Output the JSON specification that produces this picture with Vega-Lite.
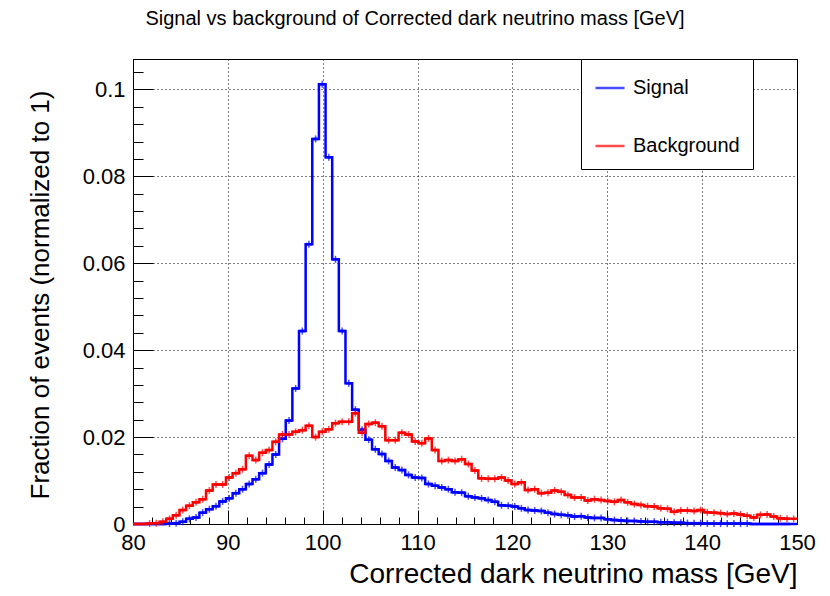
{
  "$schema": "https://vega.github.io/schema/vega-lite/v6.json",
  "width": 664,
  "height": 465,
  "autosize": {"type": "none"},
  "padding": {"left": 133, "top": 59, "right": 33, "bottom": 72},
  "background": "white",
  "title": {
    "text": "Signal vs background of Corrected dark neutrino mass [GeV]",
    "fontSize": 20,
    "fontWeight": "normal",
    "font": "Liberation Sans",
    "color": "black",
    "anchor": "middle",
    "dx": -50,
    "offset": 30
  },
  "config": {
    "view": {"stroke": "black", "strokeWidth": 1},
    "axis": {
      "labelFont": "Liberation Sans",
      "titleFont": "Liberation Sans",
      "labelColor": "black",
      "titleColor": "black",
      "domainColor": "black",
      "tickColor": "black",
      "titleFontWeight": "normal"
    }
  },
  "data": {
    "values": [
      {"lo": 80.0, "hi": 80.7, "Signal": 0, "Background": 0},
      {"lo": 80.7, "hi": 81.4, "Signal": 0, "Background": 0},
      {"lo": 81.4, "hi": 82.1, "Signal": 0, "Background": 0.0001},
      {"lo": 82.1, "hi": 82.8, "Signal": 0, "Background": 0.0002},
      {"lo": 82.8, "hi": 83.5, "Signal": 0, "Background": 0.0005},
      {"lo": 83.5, "hi": 84.2, "Signal": 0.0001, "Background": 0.0012},
      {"lo": 84.2, "hi": 84.9, "Signal": 0.0002, "Background": 0.0020},
      {"lo": 84.9, "hi": 85.6, "Signal": 0.0005, "Background": 0.0032},
      {"lo": 85.6, "hi": 86.3, "Signal": 0.0012, "Background": 0.0042},
      {"lo": 86.3, "hi": 87.0, "Signal": 0.0015, "Background": 0.0050},
      {"lo": 87.0, "hi": 87.7, "Signal": 0.0026, "Background": 0.0057},
      {"lo": 87.7, "hi": 88.4, "Signal": 0.0034, "Background": 0.0077},
      {"lo": 88.4, "hi": 89.1, "Signal": 0.0041, "Background": 0.0091},
      {"lo": 89.1, "hi": 89.8, "Signal": 0.0052, "Background": 0.0091},
      {"lo": 89.8, "hi": 90.5, "Signal": 0.0059, "Background": 0.0107},
      {"lo": 90.5, "hi": 91.2, "Signal": 0.0071, "Background": 0.0117},
      {"lo": 91.2, "hi": 91.9, "Signal": 0.0080, "Background": 0.0126},
      {"lo": 91.9, "hi": 92.6, "Signal": 0.0092, "Background": 0.0157},
      {"lo": 92.6, "hi": 93.3, "Signal": 0.0103, "Background": 0.0147},
      {"lo": 93.3, "hi": 94.0, "Signal": 0.0117, "Background": 0.0164},
      {"lo": 94.0, "hi": 94.7, "Signal": 0.0137, "Background": 0.0170},
      {"lo": 94.7, "hi": 95.4, "Signal": 0.0160, "Background": 0.0189},
      {"lo": 95.4, "hi": 96.1, "Signal": 0.0196, "Background": 0.0206},
      {"lo": 96.1, "hi": 96.8, "Signal": 0.0238, "Background": 0.0206},
      {"lo": 96.8, "hi": 97.5, "Signal": 0.0312, "Background": 0.0212},
      {"lo": 97.5, "hi": 98.2, "Signal": 0.0444, "Background": 0.0216},
      {"lo": 98.2, "hi": 98.9, "Signal": 0.0644, "Background": 0.0226},
      {"lo": 98.9, "hi": 99.6, "Signal": 0.0886, "Background": 0.0200},
      {"lo": 99.6, "hi": 100.3, "Signal": 0.1012, "Background": 0.0212},
      {"lo": 100.3, "hi": 101.0, "Signal": 0.0844, "Background": 0.0218},
      {"lo": 101.0, "hi": 101.7, "Signal": 0.0609, "Background": 0.0232},
      {"lo": 101.7, "hi": 102.4, "Signal": 0.0444, "Background": 0.0235},
      {"lo": 102.4, "hi": 103.1, "Signal": 0.0324, "Background": 0.0235},
      {"lo": 103.1, "hi": 103.8, "Signal": 0.0263, "Background": 0.0255},
      {"lo": 103.8, "hi": 104.5, "Signal": 0.0217, "Background": 0.0210},
      {"lo": 104.5, "hi": 105.2, "Signal": 0.0194, "Background": 0.0230},
      {"lo": 105.2, "hi": 105.9, "Signal": 0.0172, "Background": 0.0233},
      {"lo": 105.9, "hi": 106.6, "Signal": 0.0161, "Background": 0.0225},
      {"lo": 106.6, "hi": 107.3, "Signal": 0.0145, "Background": 0.0193},
      {"lo": 107.3, "hi": 108.0, "Signal": 0.0130, "Background": 0.0193},
      {"lo": 108.0, "hi": 108.7, "Signal": 0.0124, "Background": 0.0210},
      {"lo": 108.7, "hi": 109.4, "Signal": 0.0113, "Background": 0.0206},
      {"lo": 109.4, "hi": 110.1, "Signal": 0.0107, "Background": 0.0190},
      {"lo": 110.1, "hi": 110.8, "Signal": 0.0106, "Background": 0.0186},
      {"lo": 110.8, "hi": 111.5, "Signal": 0.0092, "Background": 0.0197},
      {"lo": 111.5, "hi": 112.2, "Signal": 0.0088, "Background": 0.0170},
      {"lo": 112.2, "hi": 112.9, "Signal": 0.0084, "Background": 0.0145},
      {"lo": 112.9, "hi": 113.6, "Signal": 0.0080, "Background": 0.0147},
      {"lo": 113.6, "hi": 114.3, "Signal": 0.0073, "Background": 0.0145},
      {"lo": 114.3, "hi": 115.0, "Signal": 0.0072, "Background": 0.0149},
      {"lo": 115.0, "hi": 115.7, "Signal": 0.0064, "Background": 0.0138},
      {"lo": 115.7, "hi": 116.4, "Signal": 0.0061, "Background": 0.0123},
      {"lo": 116.4, "hi": 117.1, "Signal": 0.0059, "Background": 0.0105},
      {"lo": 117.1, "hi": 117.8, "Signal": 0.0055, "Background": 0.0104},
      {"lo": 117.8, "hi": 118.5, "Signal": 0.0051, "Background": 0.0104},
      {"lo": 118.5, "hi": 119.2, "Signal": 0.0043, "Background": 0.0107},
      {"lo": 119.2, "hi": 119.9, "Signal": 0.0042, "Background": 0.0100},
      {"lo": 119.9, "hi": 120.6, "Signal": 0.0040, "Background": 0.0092},
      {"lo": 120.6, "hi": 121.3, "Signal": 0.0036, "Background": 0.0096},
      {"lo": 121.3, "hi": 122.0, "Signal": 0.0032, "Background": 0.0078},
      {"lo": 122.0, "hi": 122.7, "Signal": 0.0031, "Background": 0.0080},
      {"lo": 122.7, "hi": 123.4, "Signal": 0.0030, "Background": 0.0071},
      {"lo": 123.4, "hi": 124.1, "Signal": 0.0026, "Background": 0.0072},
      {"lo": 124.1, "hi": 124.8, "Signal": 0.0023, "Background": 0.0077},
      {"lo": 124.8, "hi": 125.5, "Signal": 0.0021, "Background": 0.0074},
      {"lo": 125.5, "hi": 126.2, "Signal": 0.0020, "Background": 0.0067},
      {"lo": 126.2, "hi": 126.9, "Signal": 0.0017, "Background": 0.0061},
      {"lo": 126.9, "hi": 127.6, "Signal": 0.0018, "Background": 0.0061},
      {"lo": 127.6, "hi": 128.3, "Signal": 0.0015, "Background": 0.0054},
      {"lo": 128.3, "hi": 129.0, "Signal": 0.0014, "Background": 0.0057},
      {"lo": 129.0, "hi": 129.7, "Signal": 0.0014, "Background": 0.0055},
      {"lo": 129.7, "hi": 130.4, "Signal": 0.0011, "Background": 0.0053},
      {"lo": 130.4, "hi": 131.1, "Signal": 0.0009, "Background": 0.0051},
      {"lo": 131.1, "hi": 131.8, "Signal": 0.0008, "Background": 0.0055},
      {"lo": 131.8, "hi": 132.5, "Signal": 0.0007, "Background": 0.0050},
      {"lo": 132.5, "hi": 133.2, "Signal": 0.0007, "Background": 0.0046},
      {"lo": 133.2, "hi": 133.9, "Signal": 0.0006, "Background": 0.0044},
      {"lo": 133.9, "hi": 134.6, "Signal": 0.0005, "Background": 0.0041},
      {"lo": 134.6, "hi": 135.3, "Signal": 0.0005, "Background": 0.0040},
      {"lo": 135.3, "hi": 136.0, "Signal": 0.0004, "Background": 0.0036},
      {"lo": 136.0, "hi": 136.7, "Signal": 0.0004, "Background": 0.0035},
      {"lo": 136.7, "hi": 137.4, "Signal": 0.0003, "Background": 0.0028},
      {"lo": 137.4, "hi": 138.1, "Signal": 0.0003, "Background": 0.0031},
      {"lo": 138.1, "hi": 138.8, "Signal": 0.0002, "Background": 0.0031},
      {"lo": 138.8, "hi": 139.5, "Signal": 0.0002, "Background": 0.0030},
      {"lo": 139.5, "hi": 140.2, "Signal": 0.0002, "Background": 0.0032},
      {"lo": 140.2, "hi": 140.9, "Signal": 0.0001, "Background": 0.0027},
      {"lo": 140.9, "hi": 141.6, "Signal": 0.0001, "Background": 0.0026},
      {"lo": 141.6, "hi": 142.3, "Signal": 0.0001, "Background": 0.0025},
      {"lo": 142.3, "hi": 143.0, "Signal": 0.0001, "Background": 0.0023},
      {"lo": 143.0, "hi": 143.7, "Signal": 0.0001, "Background": 0.0024},
      {"lo": 143.7, "hi": 144.4, "Signal": 0.0001, "Background": 0.0022},
      {"lo": 144.4, "hi": 145.1, "Signal": 0.0001, "Background": 0.0019},
      {"lo": 145.1, "hi": 145.8, "Signal": 0, "Background": 0.0015},
      {"lo": 145.8, "hi": 146.5, "Signal": 0, "Background": 0.0021},
      {"lo": 146.5, "hi": 147.2, "Signal": 0, "Background": 0.0022},
      {"lo": 147.2, "hi": 147.9, "Signal": 0, "Background": 0.0017},
      {"lo": 147.9, "hi": 148.6, "Signal": 0, "Background": 0.0013},
      {"lo": 148.6, "hi": 149.3, "Signal": 0, "Background": 0.0012},
      {"lo": 149.3, "hi": 150.0, "Signal": 0, "Background": 0.0012}
    ]
  },
  "transform": [
    {"fold": ["Signal", "Background"], "as": ["series", "value"]}
  ],
  "resolve": {"axis": {"x": "independent", "y": "independent"}},
  "layer": [
    {
      "mark": {"type": "rule", "strokeWidth": 2.5},
      "encoding": {
        "x": {
          "field": "lo",
          "type": "quantitative",
          "scale": {"domain": [80, 150], "nice": false, "zero": false},
          "axis": {
            "orient": "bottom",
            "values": [82, 84, 86, 88, 92, 94, 96, 98, 102, 104, 106, 108, 112, 114, 116, 118, 122, 124, 126, 128, 132, 134, 136, 138, 142, 144, 146, 148],
            "tickSize": -7,
            "labels": false,
            "grid": false,
            "domain": false,
            "title": null
          }
        },
        "x2": {"field": "hi"},
        "y": {
          "field": "value",
          "type": "quantitative",
          "scale": {"domain": [0, 0.107], "nice": false},
          "axis": {
            "orient": "left",
            "values": [0.004, 0.008, 0.012, 0.016, 0.024, 0.028, 0.032, 0.036, 0.044, 0.048, 0.052, 0.056, 0.064, 0.068, 0.072, 0.076, 0.084, 0.088, 0.092, 0.096, 0.104],
            "tickSize": -10,
            "labels": false,
            "grid": false,
            "domain": false,
            "title": null
          }
        },
        "color": {
          "field": "series",
          "type": "nominal",
          "scale": {"domain": ["Signal", "Background"], "range": ["#0000ff", "#ff0000"]},
          "legend": {
            "orient": "none",
            "legendX": 448,
            "legendY": 0,
            "title": null,
            "strokeColor": "black",
            "fillColor": "white",
            "padding": 13,
            "cornerRadius": 0,
            "labelFont": "Liberation Sans",
            "labelFontSize": 20,
            "labelColor": "black",
            "labelOffset": 7,
            "symbolType": "stroke",
            "symbolSize": 841,
            "symbolStrokeWidth": 2.5,
            "rowPadding": 32
          }
        }
      }
    },
    {
      "mark": {"type": "line", "interpolate": "step-after", "strokeWidth": 2.5},
      "encoding": {
        "x": {
          "field": "lo",
          "type": "quantitative",
          "axis": {
            "orient": "bottom",
            "values": [80, 90, 100, 110, 120, 130, 140, 150],
            "tickSize": -14,
            "grid": true,
            "gridColor": "black",
            "gridDash": [1, 3],
            "gridOpacity": 1,
            "gridWidth": 1,
            "labelFontSize": 22,
            "labelPadding": 22,
            "labelFlush": false,
            "title": "Corrected dark neutrino mass [GeV]",
            "titleFontSize": 28,
            "titleAlign": "right",
            "titleBaseline": "alphabetic",
            "titleX": 664,
            "titleY": 58
          }
        },
        "y": {
          "field": "value",
          "type": "quantitative",
          "axis": {
            "orient": "left",
            "values": [0, 0.02, 0.04, 0.06, 0.08, 0.1],
            "tickSize": -20,
            "grid": true,
            "gridColor": "black",
            "gridDash": [1, 3],
            "gridOpacity": 1,
            "gridWidth": 1,
            "labelFontSize": 22,
            "labelPadding": 28,
            "labelFlush": false,
            "format": "~g",
            "title": "Fraction of events (normalized to 1)",
            "titleFontSize": 26,
            "titleAngle": -90,
            "titleAlign": "right",
            "titleBaseline": "middle",
            "titleX": -93,
            "titleY": 31
          }
        },
        "color": {"field": "series", "type": "nominal"}
      }
    },
    {
      "transform": [{"filter": "datum.value > 0"}],
      "mark": {"type": "tick", "orient": "vertical", "size": 7, "thickness": 1.5, "xOffset": 3.3},
      "encoding": {
        "x": {"field": "lo", "type": "quantitative", "axis": null},
        "y": {"field": "value", "type": "quantitative", "axis": null},
        "color": {"field": "series", "type": "nominal"}
      }
    }
  ]
}
